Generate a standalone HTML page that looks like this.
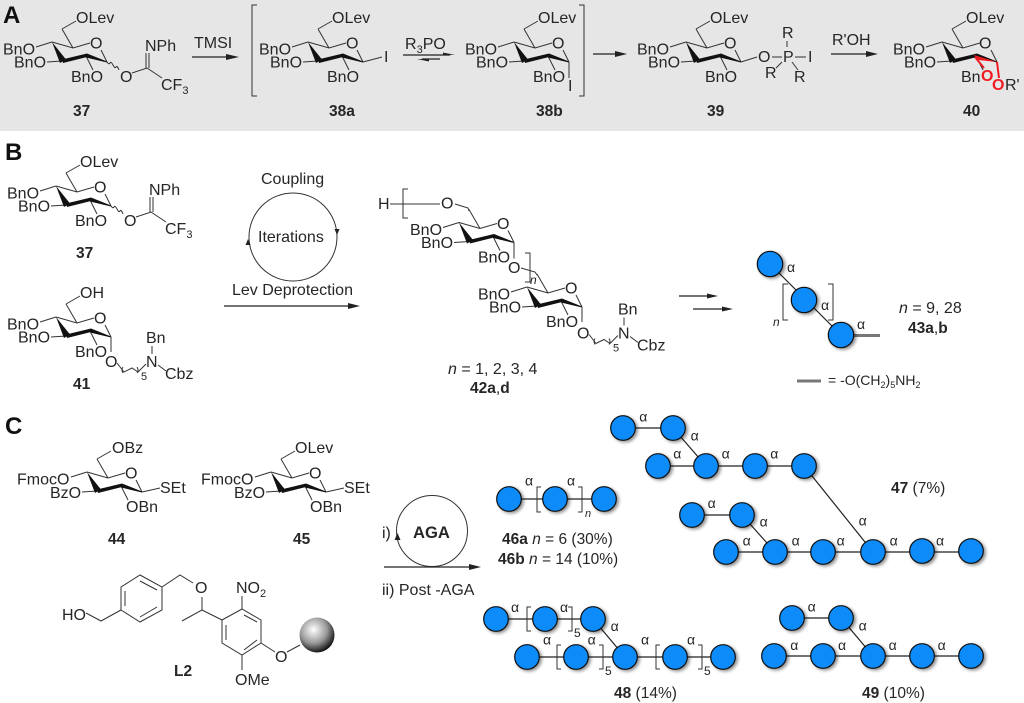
<!DOCTYPE html>
<html><head><meta charset="utf-8"><style>
html,body{margin:0;padding:0;background:#fff}
svg{display:block;filter:blur(.35px)}
text{font-family:"Liberation Sans",sans-serif;font-size:16px;fill:#262626}
.b{font-weight:bold;font-size:15.5px}
.t{font-size:15.5px}
.t .b{font-size:15.5px}
.h{font-weight:bold;font-size:24px;fill:#111}
.s{font-size:11px}
.a{font-size:14px;text-anchor:middle}
.i{font-style:italic}
.l{stroke:#333;stroke-width:1;fill:none}
.k{stroke:#222;stroke-width:1.2;fill:none}
.r{stroke:#f01c24;stroke-width:2;fill:none}
.c{fill:#0a8bf8;stroke:#111;stroke-width:1.2;filter:url(#sh)}
</style></head><body>
<svg width="1024" height="703" viewBox="0 0 1024 703" xmlns="http://www.w3.org/2000/svg">
<defs>
<filter id="sh" x="-30%" y="-30%" width="170%" height="170%"><feDropShadow dx="2" dy="1.5" stdDeviation="1.5" flood-color="#000" flood-opacity=".45"/></filter>
<radialGradient id="ball" cx=".4" cy=".35" r=".7"><stop offset="0" stop-color="#fff"/><stop offset=".55" stop-color="#999"/><stop offset="1" stop-color="#000"/></radialGradient>
<g id="rg">
<path class="l" d="M62,29L73,48M52,42L73,48L90,43M101,50L107,62M36,47L52,42M47,62L62,61M86,56L93,70"/>
<polygon fill="#111" points="52,42 60,63 66,59.5"/>
<polygon fill="#111" points="62,59.5 87,53.5 87,57 63,63"/>
<polygon fill="#111" points="87,53.5 107,61.5 107,62.5 86,57.5"/>
</g>
</defs>
<rect width="1024" height="131" fill="#e6e6e6"/>
<text class="h" x="3" y="23">A</text>
<text class="h" x="5" y="160">B</text>
<text class="h" x="5" y="434">C</text>

<!-- A 37 -->
<g>
<use href="#rg"/><path class="l" d="M62,29L76,21"/>
<text x="76" y="23">OLev</text><text x="90" y="48.5">O</text><text x="3" y="54.5">BnO</text><text x="14" y="67.5">BnO</text><text x="71" y="82">BnO</text>
<path class="l" d="M107,62q2,3 3,1t3,2t3,2t3,3M132,73L147,68L162,78M146,68V53M149,68V53"/>
<text x="120" y="82">O</text><text x="145" y="51">NPh</text><text x="161" y="90">CF<tspan class="s" dy="4">3</tspan></text>
</g>
<text class="b" x="73" y="116">37</text>
<path class="k" d="M192,57H233"/><path fill="#222" d="M239,57L226,54V60Z"/>
<text x="194" y="48">TMSI</text>
<path class="l" d="M257,5H252V96H257"/>
<!-- 38a -->
<g transform="translate(256,0)">
<use href="#rg"/><path class="l" d="M62,29L76,21M107,62L126,57"/>
<text x="76" y="23">OLev</text><text x="90" y="48.5">O</text><text x="3" y="54.5">BnO</text><text x="14" y="67.5">BnO</text><text x="71" y="82">BnO</text>
<text x="128" y="62">I</text>
</g>
<text class="b" x="329" y="116">38a</text>
<text x="405" y="49">R<tspan class="s" dy="4">3</tspan><tspan dy="-4">PO</tspan></text>
<path class="k" d="M403,55H450M422,59H440"/><path fill="#222" d="M455,55L443,52.5V55ZM417,59L429,61.5V59Z"/>
<!-- 38b -->
<g transform="translate(462,0)">
<use href="#rg"/><path class="l" d="M62,29L76,21M107,62V78"/>
<text x="76" y="23">OLev</text><text x="90" y="48.5">O</text><text x="3" y="54.5">BnO</text><text x="14" y="67.5">BnO</text><text x="71" y="82">BnO</text>
<text x="106" y="91">I</text>
</g>
<text class="b" x="536" y="116">38b</text>
<path class="l" d="M579,5H584V96H579"/>
<path class="k" d="M593,54H622"/><path fill="#222" d="M627,54L615,51V57Z"/>
<!-- 39 -->
<g transform="translate(634,0)">
<use href="#rg"/><path class="l" d="M62,29L76,21M107,62L123,57"/>
<text x="76" y="23">OLev</text><text x="90" y="48.5">O</text><text x="3" y="54.5">BnO</text><text x="14" y="67.5">BnO</text><text x="71" y="82">BnO</text>
</g>
<text x="758" y="62">O</text><text x="783" y="62">P</text><text x="808" y="62">I</text><text x="782" y="38">R</text><text x="765" y="78">R</text><text x="794" y="82">R</text>
<path class="l" d="M772,57H782M795,57H806M787,41V47M782,62L776,68M792,62L798,70"/>
<text class="b" x="707" y="116">39</text>
<text x="832" y="45">R'OH</text>
<path class="k" d="M831,54H872"/><path fill="#222" d="M878,54L866,51V57Z"/>
<!-- 40 -->
<g transform="translate(890,0)">
<use href="#rg"/><path class="l" d="M62,29L76,21"/>
<text x="76" y="23">OLev</text><text x="89" y="48.5">O</text><text x="3" y="54.5">BnO</text><text x="14" y="67.5">BnO</text>
</g>
<text x="961" y="82">Bn</text><text x="1005" y="90">R'</text>
<path class="r" d="M975,57L984,68M997,62L999,78"/><path fill="#f01c24" d="M974,55L997,62L978,60Z"/>
<text class="b" x="981" y="81" style="fill:#f01c24;font-size:16px">O</text><text class="b" x="992" y="90" style="fill:#f01c24;font-size:16px">O</text>
<text class="b" x="963" y="116">40</text>

<!-- B 37 -->
<g transform="translate(4,144)">
<use href="#rg"/><path class="l" d="M62,29L76,21"/>
<text x="76" y="23">OLev</text><text x="90" y="48.5">O</text><text x="3" y="54.5">BnO</text><text x="14" y="67.5">BnO</text><text x="71" y="82">BnO</text>
<path class="l" d="M107,62q2,3 3,1t3,2t3,2t3,3M132,73L147,68L162,78M146,68V53M149,68V53"/>
<text x="120" y="82">O</text><text x="145" y="51">NPh</text><text x="161" y="90">CF<tspan class="s" dy="4">3</tspan></text>
</g>
<text class="b" x="76" y="258">37</text>
<!-- 41 -->
<g transform="translate(4,275)">
<use href="#rg"/><path class="l" d="M62,29L76,21M107,62V77"/>
<text x="76" y="23">OH</text><text x="90" y="48.5">O</text><text x="3" y="54.5">BnO</text><text x="14" y="67.5">BnO</text><text x="71" y="82">BnO</text>
</g>
<g>
<text x="105" y="367">O</text>
<path class="l" d="M117,363L124,372L132,368L138,372L146,364M123,367q-2,3 0,6M137,367q2,3 0,6M152,346V354M158,365L166,371"/>
<text x="146" y="367">N</text><text x="146" y="343">Bn</text><text x="165" y="379">Cbz</text><text class="s" x="141" y="380">5</text>
</g>
<text class="b" x="73" y="389">41</text>
<!-- cycle -->
<circle class="l" cx="293" cy="237" r="44"/>
<path fill="#222" d="M337,235l-2.5,-6h5ZM248,239l-2.5,6h5Z"/>
<text x="261" y="184">Coupling</text><text x="258" y="242">Iterations</text><text x="232" y="295">Lev Deprotection</text>
<path class="k" d="M224,306H353"/><path fill="#222" d="M360,306L348,303V309Z"/>
<!-- 42 -->
<text x="378" y="209">H</text>
<text x="441" y="208.5">O</text>
<path class="l" d="M390,204H440M455,204L468,208L469,211M408,189H403V218H408"/>
<g transform="translate(407,180.5)">
<use href="#rg"/><path class="l" d="M107,62V78"/>
<text x="90" y="48.5">O</text><text x="3" y="54.5">BnO</text><text x="14" y="67.5">BnO</text><text x="71" y="82">BnO</text>
</g>
<text x="508" y="273">O</text>
<path class="l" d="M521,268L535,272L537,275M525,253H530V282H525"/>
<text class="i" x="530" y="284" style="font-size:12px">n</text>
<g transform="translate(475,245)">
<use href="#rg"/><path class="l" d="M107,62V77"/>
<text x="90" y="48.5">O</text><text x="3" y="54.5">BnO</text><text x="14" y="67.5">BnO</text><text x="71" y="82">BnO</text>
</g>
<g transform="translate(472,-28.5)">
<text x="105" y="367">O</text>
<path class="l" d="M117,363L124,372L132,368L138,372L146,364M123,367q-2,3 0,6M137,367q2,3 0,6M152,346V354M158,365L166,371"/>
<text x="146" y="367">N</text><text x="146" y="343">Bn</text><text x="165" y="379">Cbz</text><text class="s" x="141" y="380">5</text>
</g>
<text x="448" y="374"><tspan class="i">n</tspan> = 1, 2, 3, 4</text>
<text class="b" x="470" y="393">42a<tspan style="font-weight:normal">,</tspan>d</text>
<path class="k" d="M679,296H712M693,309H728"/><path fill="#222" d="M718,296L707,293.5V298.5ZM733,309L722,306.5V311.5Z"/>
<!-- 43 -->
<path class="k" d="M770,264L841,335"/>
<path d="M853,335.5H880M797,381H821" stroke="#777" stroke-width="3" fill="none"/>
<circle class="c" cx="770" cy="264" r="12.7"/><circle class="c" cx="804" cy="300" r="12.7"/><circle class="c" cx="841" cy="335" r="12.7"/>
<path class="l" d="M788,284H783V320H788M828,284H833V320H828"/>
<text class="i" x="773" y="326" style="font-size:12px">n</text>
<text class="a" x="791" y="272">α</text><text class="a" x="825" y="310">α</text><text class="a" x="861" y="329">α</text>
<text x="899" y="313"><tspan class="i">n</tspan> = 9, 28</text>
<text class="b" x="908" y="333">43a<tspan style="font-weight:normal">,</tspan>b</text>
<text x="828" y="385" style="font-size:14px">= -O(CH<tspan style="font-size:9px" dy="3">2</tspan><tspan style="font-size:14px" dy="-3">)</tspan><tspan style="font-size:9px" dy="3">5</tspan><tspan dy="-3">NH</tspan><tspan style="font-size:9px" dy="3">2</tspan></text>

<!-- 44 -->
<g transform="translate(35,430)">
<use href="#rg"/><path class="l" d="M62,29L76,21M107,62L125,58"/>
<text x="77" y="23">OBz</text><text x="90" y="48.5">O</text><text x="-18" y="54.5">FmocO</text><text x="15" y="68">BzO</text><text x="91" y="82">OBn</text><text x="125" y="63">SEt</text>
</g>
<text class="b" x="108" y="544">44</text>
<!-- 45 -->
<g transform="translate(219,430)">
<use href="#rg"/><path class="l" d="M62,29L76,21M107,62L125,58"/>
<text x="76" y="23">OLev</text><text x="90" y="48.5">O</text><text x="-18" y="54.5">FmocO</text><text x="15" y="68">BzO</text><text x="91" y="82">OBn</text><text x="125" y="63">SEt</text>
</g>
<text class="b" x="293" y="544">45</text>
<!-- L2 -->
<path class="l" d="M140,575L162,587V610L140,622L121,610V587ZM140,581L157,590M157,607L140,617M125,591V606"/>
<path class="l" d="M162,587L180,575L193,583M121,610L101,621L86,613M202,597V610L182,621M202,610L222,620L242,609L261,620V643L242,655L222,643V620M242,609V596M242,655V670M261,643L275,652M287,652L300,645M244,615L257,622M257,640L244,650M226,625V640"/>
<text x="62" y="620">HO</text><text x="195" y="593">O</text><text x="236" y="593">NO<tspan class="s" dy="4">2</tspan></text>
<text x="235" y="685">OMe</text><text x="275" y="662">O</text>
<text class="b" x="174" y="676">L2</text>
<circle cx="317" cy="635" r="17.5" fill="url(#ball)"/>
<!-- AGA -->
<circle class="l" cx="432" cy="531" r="35.5"/>
<path fill="#222" d="M397.5,533l-3,7h6Z"/>
<text class="b" x="413" y="538" style="font-size:16.6px">AGA</text>
<text x="382" y="538">i)</text>
<path class="k" d="M384,567H474"/><path fill="#222" d="M481,567L469,564V570Z"/>
<text x="382" y="595">ii) Post -AGA</text>

<!-- 46 -->
<path class="k" d="M509,499H604"/>
<circle class="c" cx="509" cy="499" r="12.3"/><circle class="c" cx="555" cy="499" r="12.3"/><circle class="c" cx="604" cy="499" r="12.3"/>
<path class="l" d="M541,487H537V512H541M578,487H582V512H578"/>
<text class="i" x="585" y="517" style="font-size:11px">n</text>
<text class="a" x="529" y="485.7">α</text><text class="a" x="571" y="485.7">α</text>
<text class="t" x="502" y="544"><tspan class="b">46a</tspan> <tspan class="i">n</tspan> = 6 (30%)</text>
<text class="t" x="498" y="564"><tspan class="b">46b</tspan> <tspan class="i">n</tspan> = 14 (10%)</text>
<!-- 47 -->
<path class="k" d="M623,428H673L706,466M658,466H804L873,552M692,515H742L775,552M726,552H971"/>
<circle class="c" cx="623" cy="428" r="12.3"/><circle class="c" cx="673" cy="428" r="12.3"/>
<circle class="c" cx="658" cy="466" r="12.3"/><circle class="c" cx="706" cy="466" r="12.3"/><circle class="c" cx="755" cy="466" r="12.3"/><circle class="c" cx="804" cy="466" r="12.3"/>
<circle class="c" cx="692" cy="515" r="12.3"/><circle class="c" cx="742" cy="515" r="12.3"/>
<circle class="c" cx="726" cy="552" r="12.3"/><circle class="c" cx="775" cy="552" r="12.3"/><circle class="c" cx="823" cy="552" r="12.3"/><circle class="c" cx="873" cy="552" r="12.3"/><circle class="c" cx="922" cy="551" r="12.3"/><circle class="c" cx="971" cy="551" r="12.3"/>
<text class="a" x="643.3" y="421.3">α</text><text class="a" x="694.7" y="440.7">α</text><text class="a" x="677.3" y="458.3">α</text><text class="a" x="725.7" y="458.3">α</text><text class="a" x="774.3" y="458.3">α</text><text class="a" x="711.7" y="508">α</text><text class="a" x="763.7" y="526.3">α</text><text class="a" x="746.7" y="545.3">α</text><text class="a" x="795.7" y="545.3">α</text><text class="a" x="840.7" y="545.3">α</text><text class="a" x="862.7" y="525.7">α</text><text class="a" x="893.7" y="545.3">α</text><text class="a" x="940" y="545.3">α</text>
<text class="t" x="891" y="493"><tspan class="b">47</tspan> (7%)</text>
<!-- 48 -->
<path class="k" d="M496,619H593L625,657M527,657H723"/>
<circle class="c" cx="496" cy="619" r="12.3"/><circle class="c" cx="545" cy="619" r="12.3"/><circle class="c" cx="593" cy="619" r="12.3"/>
<circle class="c" cx="527" cy="657" r="12.3"/><circle class="c" cx="576" cy="657" r="12.3"/><circle class="c" cx="625" cy="657" r="12.3"/><circle class="c" cx="675" cy="657" r="12.3"/><circle class="c" cx="723" cy="657" r="12.3"/>
<path class="l" d="M531,607H527V631H531M568,607H572V631H568M561,645H557V669H561M599,645H603V669H599M660,645H656V669H660M698,645H702V669H698"/>
<text x="574" y="637" style="font-size:12px">5</text><text x="605" y="675" style="font-size:12px">5</text><text x="704" y="675" style="font-size:12px">5</text>
<text class="a" x="515" y="612">α</text><text class="a" x="564" y="612">α</text><text class="a" x="614.7" y="631">α</text><text class="a" x="547" y="644.7">α</text><text class="a" x="591.7" y="644.7">α</text><text class="a" x="645" y="644.7">α</text><text class="a" x="691" y="644.7">α</text>
<text class="t" x="614" y="698"><tspan class="b">48</tspan> (14%)</text>
<!-- 49 -->
<path class="k" d="M792,618H841L873,656M774,656H971"/>
<circle class="c" cx="792" cy="618" r="12.3"/><circle class="c" cx="841" cy="618" r="12.3"/>
<circle class="c" cx="774" cy="656" r="12.3"/><circle class="c" cx="823" cy="656" r="12.3"/><circle class="c" cx="873" cy="656" r="12.3"/><circle class="c" cx="922" cy="656" r="12.3"/><circle class="c" cx="971" cy="656" r="12.3"/>
<text class="a" x="811.7" y="611.3">α</text><text class="a" x="862.7" y="630.3">α</text><text class="a" x="794.3" y="650">α</text><text class="a" x="842" y="650">α</text><text class="a" x="892.7" y="650">α</text><text class="a" x="941.7" y="650">α</text>
<text class="t" x="862" y="698"><tspan class="b">49</tspan> (10%)</text>
</svg>
</body></html>
